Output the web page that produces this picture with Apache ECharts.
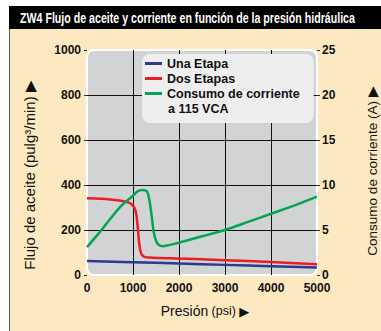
<!DOCTYPE html>
<html>
<head>
<meta charset="utf-8">
<script src="https://cdn.jsdelivr.net/npm/echarts@6/dist/echarts.min.js"></script>
<style>
  html, body { margin: 0; padding: 0; background: #ffffff; }
  #main { width: 381px; height: 331px; }
</style>
</head>
<body>
<div id="main"></div>
<script>
// datos
var titulo = 'ZW4 Flujo de aceite y corriente en función de la presión hidráulica';
var presionTicks = [0, 1000, 2000, 3000, 4000, 5000];

var unaEtapaPsi = [0, 1000, 2000, 3000, 4000, 5000];
var unaEtapaFlujo = [62, 57, 51, 45, 39, 33];

var dosEtapasPsi = [0, 500, 800, 950, 1050, 1100, 1130, 1170, 1230, 1350, 2000, 3000, 4000, 5000];
var dosEtapasFlujo = [341, 336, 328, 318, 290, 220, 150, 100, 82, 78, 73, 66, 58, 48];

var corrientePsi = [0, 250, 500, 750, 1000, 1100, 1200, 1300, 1350, 1400, 1450, 1500, 1550, 1650, 1800, 2000, 2500, 3000, 3500, 4000, 4500, 5000];
var corrienteA = [3.1, 4.6, 6.2, 7.7, 8.8, 9.3, 9.45, 9.3, 8.5, 6.8, 4.8, 3.8, 3.4, 3.2, 3.35, 3.6, 4.3, 5.0, 5.9, 6.8, 7.7, 8.7];

function pares(xs, ys) {
    var out = [];
    for (var i = 0; i < xs.length; i++) out.push([xs[i], ys[i]]);
    return out;
}

var sans = "'Liberation Sans', Arial, sans-serif";
var plano = function (v) { return String(v); };// sin separador de miles

var myChart = echarts.init(document.getElementById('main'), null, { renderer: 'svg' });

var option = {
    animation: false,
    graphic: [
        { type: 'rect', shape: { x: 10, y: 29, width: 371, height: 302 }, style: { fill: '#fde9c1' }, z: -10 },
        { type: 'rect', shape: { x: 9, y: 6, width: 1, height: 325 }, style: { fill: '#555' }, z: -10 },
        { type: 'rect', shape: { x: 9, y: 6, width: 372, height: 23 }, style: { fill: '#000' }, z: -10 },
        { type: 'text', x: 20, y: 18, z: 5, scaleX: 0.76,
          style: { text: titulo, fill: '#fff', font: 'bold 14px ' + sans, verticalAlign: 'middle' } },
        // fondo gris del area de trazado
        { type: 'rect', shape: { x: 87, y: 50, width: 230, height: 225, r: 7 },
          style: { fill: '#d2d3d5', stroke: '#ffffff', lineWidth: 2 }, z: -1 },
        { type: 'text', x: 29, y: 175, rotation: Math.PI / 2, z: 5,
          style: { text: 'Flujo de aceite (pulg³/min) ▶', fill: '#111', font: '15px ' + sans, align: 'center', verticalAlign: 'middle' } },
        { type: 'text', x: 372, y: 171, rotation: Math.PI / 2, z: 5,
          style: { text: 'Consumo de corriente (A) ▶', fill: '#111', font: '13.5px ' + sans, align: 'center', verticalAlign: 'middle' } },
        { type: 'text', x: 205, y: 311, z: 5,
          style: { text: '{a|Presión} {b|(psi)} {c|▶}', align: 'center', verticalAlign: 'middle',
            rich: {
                a: { fontFamily: sans, fontSize: 14, fill: '#111', color: '#111' },
                b: { fontFamily: sans, fontSize: 12.5, fill: '#111', color: '#111' },
                c: { fontFamily: 'DejaVu Sans', fontSize: 13, fill: '#111', color: '#111' }
            } } },
        { type: 'text', x: 168, y: 109, z: 20,
          style: { text: 'a 115 VCA', fill: '#111', font: 'bold 12.5px ' + sans, verticalAlign: 'middle' } }
    ],
    grid: { left: 87, right: 64, top: 50, bottom: 56 },
    legend: {
        orient: 'vertical',
        left: 142,
        top: 54,
        icon: 'rect',
        itemWidth: 17,
        itemHeight: 3,
        itemGap: 0,
        padding: [2, 14, 22, 3],
        backgroundColor: '#eeeeef',
        borderRadius: 8,
        textStyle: { fontFamily: sans, fontWeight: 'bold', fontSize: 12.5, color: '#111', lineHeight: 15 },
        data: ['Una Etapa', 'Dos Etapas', 'Consumo de corriente']
    },
    xAxis: {
        type: 'value',
        min: 0,
        max: 5000,
        interval: 1000,
        axisLine: { show: false },
        axisTick: { show: false },
        axisLabel: { margin: 7, fontFamily: sans, fontWeight: 'bold', fontSize: 12, color: '#111', formatter: plano },
        splitLine: { show: true, showMinLine: false, showMaxLine: false, lineStyle: { color: '#111', width: 1 } }
    },
    yAxis: [
        {
            type: 'value',
            min: 0,
            max: 1000,
            interval: 200,
            axisLine: { show: false },
            axisTick: { show: true, length: 3, lineStyle: { color: '#333' } },
            axisLabel: { margin: 6, fontFamily: sans, fontWeight: 'bold', fontSize: 12, color: '#111', formatter: plano },
            splitLine: { show: true, showMinLine: false, showMaxLine: false, lineStyle: { color: '#111', width: 1 } }
        },
        {
            type: 'value',
            min: 0,
            max: 25,
            interval: 5,
            axisLine: { show: false },
            axisTick: { show: true, length: 3, lineStyle: { color: '#333' } },
            axisLabel: { margin: 5, fontFamily: sans, fontWeight: 'bold', fontSize: 12, color: '#111', formatter: plano },
            splitLine: { show: false }
        }
    ],
    series: [
        {
            name: 'Una Etapa', type: 'line', yAxisIndex: 0, showSymbol: false, smooth: 0.3,
            lineStyle: { color: '#2b3990', width: 2.5 }, itemStyle: { color: '#2b3990' },
            data: pares(unaEtapaPsi, unaEtapaFlujo)
        },
        {
            name: 'Dos Etapas', type: 'line', yAxisIndex: 0, showSymbol: false, smooth: 0.3,
            lineStyle: { color: '#ed1c24', width: 2.5 }, itemStyle: { color: '#ed1c24' },
            data: pares(dosEtapasPsi, dosEtapasFlujo)
        },
        {
            name: 'Consumo de corriente', type: 'line', yAxisIndex: 1, showSymbol: false, smooth: 0.3,
            lineStyle: { color: '#00a651', width: 2.5 }, itemStyle: { color: '#00a651' },
            data: pares(corrientePsi, corrienteA)
        }
    ]
};

myChart.setOption(option);
</script>
</body>
</html>
